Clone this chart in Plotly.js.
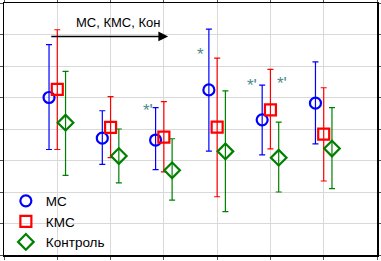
<!DOCTYPE html>
<html><head><meta charset="utf-8">
<script src="https://cdn.plot.ly/plotly-3.0.1.min.js"></script>
<style>html,body{margin:0;padding:0;background:#fff}#c{width:381px;height:261px}</style>
</head><body><div id="c"></div>
<script>
const groups = [1, 2, 3, 4, 5, 6];
const names = ["МС", "КМС", "Контроль"];
const msMean  = [5.00, 3.71, 3.65, 5.24, 4.29, 4.82];
const msUp    = [6.68, 4.58, 4.68, 7.17, 5.39, 6.13];
const msLo    = [3.35, 2.88, 2.71, 3.30, 3.18, 3.53];
const kmsMean = [5.26, 4.05, 3.74, 4.06, 4.61, 3.84];
const kmsUp   = [7.15, 5.03, 4.87, 6.25, 5.89, 5.31];
const kmsLo   = [3.35, 3.09, 2.64, 1.85, 3.37, 2.35];
const conMean = [4.20, 3.14, 2.69, 3.29, 3.09, 3.38];
const conUp   = [5.83, 4.00, 3.69, 5.21, 4.22, 4.68];
const conLo   = [2.53, 2.29, 1.74, 1.38, 2.00, 2.11];
const starX = [2.70, 3.68, 4.65, 5.22];
const starY = [4.60, 6.36, 5.39, 5.45];
const starText = ["*'", "*", "*'", "*'"];
const arrowLabel = "МС, КМС, Кон";

function tr(name, offs, mean, up, lo, color, symbol, sz) {
  return {
    type: 'scatter', mode: 'markers', name: name,
    x: groups.map(g => g + offs), y: mean,
    marker: {symbol: symbol, size: sz, color: color, line: {color: color, width: 2.2}},
    error_y: {type: 'data', symmetric: false,
      array: up.map((u, i) => u - mean[i]), arrayminus: mean.map((m, i) => m - lo[i]),
      color: color, thickness: 1.2, width: 3}
  };
}
const data = [
  tr(names[0], -0.155, msMean, msUp, msLo, '#0000ff', 'circle-open', 11),
  tr(names[1], 0, kmsMean, kmsUp, kmsLo, '#ff0000', 'square-open', 11),
  tr(names[2], 0.155, conMean, conUp, conLo, '#008000', 'diamond-open', 12)
];
const ann = starX.map((x, i) => ({x: x, y: starY[i], text: starText[i], showarrow: false,
  font: {size: 17, color: '#4d8b8b', family: 'Liberation Sans'}}));
ann.push({x: 3.08, y: 6.94, ax: 0.86, ay: 6.94, xref: 'x', yref: 'y', axref: 'x', ayref: 'y',
  text: '', showarrow: true, arrowhead: 2, arrowsize: 1.3, arrowwidth: 1.5, arrowcolor: '#000'});
ann.push({x: 2.14, y: 7.37, text: arrowLabel, showarrow: false,
  font: {size: 13, color: '#000', family: 'Liberation Sans'}});
const layout = {
  width: 381, height: 261,
  margin: {l: 4, r: 4, t: 3, b: 4},
  paper_bgcolor: '#fff', plot_bgcolor: '#fff',
  font: {family: 'Liberation Sans', size: 13, color: '#000'},
  showlegend: true,
  legend: {x: 0.005, y: -0.01, xanchor: 'left', yanchor: 'bottom', bgcolor: 'rgba(0,0,0,0)',
    font: {size: 13.5}, tracegroupgap: 0},
  xaxis: {range: [0, 7], dtick: 1, tick0: 0, showticklabels: false, showgrid: true, gridcolor: '#d9d9d9',
    zeroline: false, showline: true, linecolor: '#000', linewidth: 1.5, mirror: 'ticks',
    ticks: 'outside', ticklen: 3, tickcolor: '#555'},
  yaxis: {range: [0, 8], dtick: 1, tick0: 0, showticklabels: false, showgrid: true, gridcolor: '#d9d9d9',
    zeroline: false, showline: true, linecolor: '#000', linewidth: 1.5, mirror: 'ticks',
    ticks: 'outside', ticklen: 3, tickcolor: '#555'},
  annotations: ann
};
Plotly.newPlot('c', data, layout, {displayModeBar: false, staticPlot: true});
</script></body></html>
